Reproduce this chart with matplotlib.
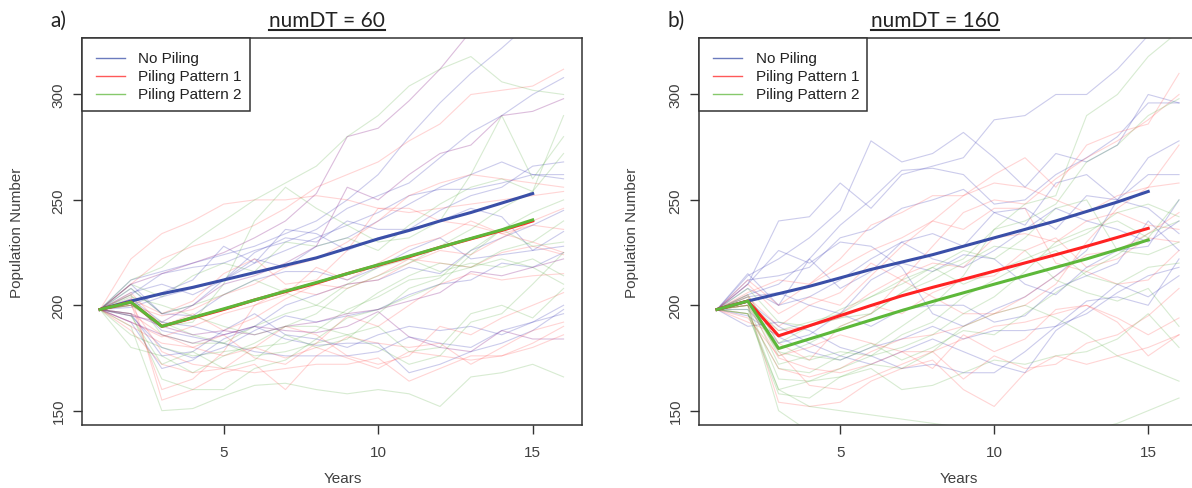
import matplotlib
matplotlib.use("Agg")
import matplotlib.pyplot as plt
from matplotlib.lines import Line2D
from matplotlib.patches import Rectangle

plt.rcParams['font.family'] = ['Liberation Sans', 'DejaVu Sans']

#--------------- data ----------#
years = list(range(1, 17))
mean_years = list(range(1, 16))

# panel a) numDT = 60
a_blue = [
    [198, 212, 216, 220, 224, 228, 234, 240, 250, 262, 280, 296, 310, 322, 335, 345],
    [198, 205, 215, 218, 220, 226, 230, 236, 246, 252, 258, 270, 282, 290, 300, 308],
    [198, 208, 196, 200, 212, 222, 218, 228, 232, 240, 248, 256, 262, 268, 262, 260],
    [198, 195, 180, 175, 180, 188, 195, 192, 195, 198, 205, 210, 212, 220, 218, 225],
    [198, 202, 188, 185, 182, 178, 176, 176, 176, 178, 185, 182, 180, 188, 192, 196],
    [198, 206, 210, 205, 212, 220, 226, 232, 238, 244, 252, 255, 255, 258, 262, 262],
    [198, 192, 170, 174, 184, 190, 200, 205, 210, 212, 218, 215, 226, 232, 238, 245],
    [198, 200, 206, 212, 228, 220, 236, 234, 226, 232, 236, 240, 246, 242, 226, 235],
    [198, 210, 196, 195, 205, 212, 216, 216, 212, 218, 226, 232, 222, 224, 226, 228],
    [198, 203, 192, 190, 186, 190, 184, 181, 182, 182, 168, 172, 178, 182, 188, 198],
    [198, 199, 204, 208, 212, 225, 232, 230, 240, 236, 236, 245, 252, 256, 266, 268],
    [198, 196, 176, 178, 188, 196, 186, 184, 180, 186, 190, 188, 190, 186, 192, 200],
]
a_red = [
    [198, 222, 234, 240, 248, 250, 250, 252, 250, 246, 244, 246, 248, 250, 252, 254],
    [198, 210, 222, 228, 232, 238, 246, 256, 262, 268, 278, 286, 300, 302, 304, 312],
    [198, 200, 178, 172, 170, 168, 170, 172, 172, 175, 164, 170, 176, 176, 182, 190],
    [198, 205, 155, 160, 168, 172, 160, 176, 185, 182, 180, 182, 172, 180, 188, 192],
    [198, 192, 185, 190, 196, 200, 208, 205, 210, 212, 220, 226, 224, 232, 240, 246],
    [198, 200, 195, 198, 205, 210, 218, 222, 230, 240, 252, 258, 262, 260, 258, 256],
    [198, 190, 182, 180, 176, 180, 175, 180, 175, 170, 178, 176, 174, 176, 180, 186],
    [198, 203, 196, 202, 215, 222, 210, 212, 226, 246, 246, 240, 238, 234, 230, 225],
    [198, 188, 172, 168, 170, 180, 190, 186, 176, 172, 176, 190, 186, 194, 200, 206],
    [198, 206, 190, 196, 188, 194, 203, 210, 208, 214, 222, 220, 218, 225, 228, 224],
    [198, 196, 186, 180, 186, 175, 172, 182, 195, 190, 200, 210, 215, 212, 214, 215],
    [198, 201, 160, 165, 178, 200, 205, 218, 212, 220, 228, 232, 240, 234, 238, 236],
]
a_green = [
    [198, 212, 218, 230, 240, 250, 258, 266, 280, 290, 304, 312, 318, 306, 302, 300],
    [198, 190, 150, 151, 157, 162, 163, 160, 158, 160, 158, 152, 166, 168, 172, 166],
    [198, 200, 190, 192, 210, 240, 256, 246, 238, 230, 232, 240, 262, 290, 260, 280],
    [198, 180, 176, 168, 176, 182, 190, 190, 186, 180, 172, 176, 192, 196, 210, 225],
    [198, 205, 186, 182, 182, 190, 196, 200, 196, 206, 214, 220, 218, 226, 230, 240],
    [198, 208, 196, 200, 205, 212, 206, 200, 210, 218, 222, 216, 220, 218, 222, 214],
    [198, 195, 172, 178, 170, 174, 186, 180, 184, 196, 208, 213, 226, 236, 228, 230],
    [198, 210, 204, 214, 220, 216, 230, 228, 232, 226, 238, 248, 256, 260, 254, 290],
    [198, 186, 180, 176, 178, 180, 182, 188, 198, 204, 212, 214, 218, 222, 218, 210],
    [198, 196, 165, 160, 160, 170, 174, 184, 194, 198, 204, 210, 224, 236, 244, 250],
    [198, 204, 200, 195, 190, 186, 190, 196, 208, 214, 220, 228, 236, 246, 254, 272],
    [198, 200, 192, 186, 182, 176, 178, 182, 186, 190, 178, 180, 196, 200, 194, 208],
]
a_purple = [
    [198, 210, 215, 220, 225, 232, 240, 253, 280, 284, 297, 312, 330, 345, 355, 360],
    [198, 195, 192, 200, 210, 214, 220, 228, 256, 250, 262, 272, 276, 290, 292, 298],
    [198, 196, 190, 186, 188, 186, 190, 192, 196, 198, 202, 206, 216, 214, 218, 222],
    [198, 192, 186, 182, 186, 190, 188, 187, 190, 197, 185, 180, 178, 188, 184, 184],
]
a_mean_blue = [198, 202, 205.5, 208.5, 212, 215.5, 219, 222.5, 227, 231.5, 235.5, 240, 244, 248.5, 253]
a_mean_red = [198, 201.5, 190, 194, 198, 202.5, 206.5, 210.5, 215, 219, 223, 227.5, 231.5, 235.5, 240]
a_mean_green = [198, 201.5, 190, 194.2, 198.3, 202.5, 206.7, 210.8, 215, 219.2, 223.3, 227.5, 231.7, 235.8, 240.5]

# panel b) numDT = 160
b_blue = [
    [198, 210, 240, 242, 258, 246, 262, 266, 270, 288, 290, 300, 300, 312, 328, 340],
    [198, 214, 222, 232, 245, 278, 268, 272, 282, 270, 256, 272, 268, 276, 300, 296],
    [198, 205, 210, 222, 238, 250, 264, 265, 262, 248, 250, 262, 270, 280, 296, 296],
    [198, 212, 214, 218, 232, 236, 246, 250, 255, 244, 238, 258, 262, 250, 270, 278],
    [198, 208, 200, 222, 208, 216, 230, 234, 228, 244, 246, 236, 252, 250, 246, 234],
    [198, 202, 190, 182, 176, 172, 178, 184, 178, 172, 168, 188, 198, 210, 204, 214],
    [198, 195, 185, 178, 174, 180, 184, 190, 184, 188, 188, 190, 196, 206, 214, 218],
    [198, 215, 200, 204, 212, 222, 230, 222, 218, 226, 236, 246, 240, 236, 230, 240],
    [198, 190, 192, 188, 180, 176, 170, 172, 168, 168, 178, 190, 202, 204, 200, 222],
    [198, 204, 206, 200, 196, 212, 220, 216, 224, 222, 210, 205, 218, 226, 228, 250],
    [198, 198, 182, 186, 196, 190, 198, 200, 200, 192, 195, 208, 214, 220, 240, 226],
    [198, 210, 226, 220, 230, 228, 218, 196, 190, 198, 204, 214, 226, 250, 262, 262],
]
b_red = [
    [198, 212, 200, 210, 222, 238, 244, 252, 252, 262, 270, 256, 276, 282, 286, 310],
    [198, 205, 182, 174, 190, 196, 212, 228, 244, 250, 248, 260, 270, 278, 288, 300],
    [198, 200, 175, 170, 168, 172, 178, 178, 165, 176, 170, 172, 182, 186, 195, 208],
    [198, 200, 154, 152, 154, 164, 170, 174, 160, 152, 168, 176, 172, 176, 180, 186],
    [198, 206, 212, 210, 218, 226, 232, 240, 252, 258, 256, 250, 244, 252, 256, 258],
    [198, 192, 186, 190, 196, 206, 214, 220, 218, 232, 234, 230, 240, 244, 238, 236],
    [198, 202, 178, 162, 160, 166, 172, 178, 184, 190, 192, 196, 200, 194, 186, 194],
    [198, 204, 190, 200, 206, 220, 212, 204, 196, 196, 200, 210, 230, 246, 256, 276],
    [198, 196, 170, 166, 170, 178, 184, 186, 190, 196, 204, 214, 224, 226, 234, 244],
    [198, 210, 196, 204, 200, 214, 228, 240, 236, 246, 246, 220, 216, 210, 212, 226],
    [198, 194, 176, 180, 186, 182, 178, 170, 186, 178, 184, 198, 200, 192, 176, 186],
    [198, 200, 188, 190, 194, 200, 196, 206, 212, 214, 226, 232, 218, 222, 232, 230],
]
b_green = [
    [198, 200, 150, 140, 135, 130, 125, 120, 118, 116, 115, 114, 114, 120, 130, 138],
    [198, 196, 160, 152, 150, 148, 146, 144, 142, 140, 140, 138, 140, 144, 150, 156],
    [198, 202, 172, 176, 174, 180, 190, 200, 214, 236, 248, 252, 290, 300, 318, 330],
    [198, 204, 176, 182, 190, 196, 206, 216, 222, 236, 240, 248, 268, 276, 290, 298],
    [198, 200, 165, 164, 170, 176, 180, 186, 196, 204, 216, 230, 236, 240, 232, 250],
    [198, 198, 160, 164, 166, 172, 170, 178, 190, 196, 200, 194, 186, 176, 170, 164],
    [198, 205, 182, 190, 198, 204, 212, 218, 226, 222, 232, 246, 250, 226, 224, 230],
    [198, 196, 170, 168, 176, 182, 174, 180, 188, 186, 196, 206, 216, 224, 234, 240],
    [198, 202, 188, 192, 196, 204, 210, 218, 210, 216, 222, 228, 234, 244, 248, 242],
    [198, 196, 158, 156, 166, 170, 160, 162, 168, 174, 172, 176, 178, 184, 196, 180],
    [198, 208, 192, 190, 194, 196, 206, 212, 220, 228, 226, 212, 206, 202, 208, 190],
    [198, 200, 178, 174, 178, 176, 186, 192, 204, 212, 220, 226, 214, 210, 218, 220],
]
b_mean_blue = [198, 202, 205.5, 209, 213, 217, 220.5, 224, 228, 232, 236, 240, 244.5, 249, 254]
b_mean_red = [198, 202, 185.5, 190.3, 195.1, 199.9, 204.5, 208.5, 212.3, 216.2, 220.1, 224, 228, 232.2, 236.5]
b_mean_green = [198, 202, 179.5, 184, 188.5, 193, 197.5, 201.8, 205.9, 210, 214, 218, 222, 226.4, 231]

legend_labels = ["No Piling", "Piling Pattern 1", "Piling Pattern 2"]

#--------------- styles ----------#
W, H = 1192, 489
thin_blue = (0.2, 0.2, 0.7, 0.25)
thin_red = (1.0, 0.25, 0.25, 0.22)
thin_green = (0.3, 0.65, 0.2, 0.22)
thin_purple = (0.55, 0.15, 0.55, 0.3)
thick_blue = "#3A4FA8"
thick_red = "#FF2222"
thick_green = "#5DB83A"
axis_col = "#333333"

fig = plt.figure(figsize=(W / 100, H / 100), dpi=100)


def fx(px):
    return px / W


def fy(py):
    return 1 - py / H


def make_panel(left, right, blue, red, green, purple, m_blue, m_red, m_green,
               title, tag, tag_x, title_x, ylab_x, years_x):
    ax = fig.add_axes([fx(left), fy(426), (right - left) / W, (426 - 39) / H])
    for s in blue:
        ax.plot(years, s, color=thin_blue, lw=0.8)
    for s in red:
        ax.plot(years, s, color=thin_red, lw=0.8)
    for s in green:
        ax.plot(years, s, color=thin_green, lw=0.8)
    for s in purple:
        ax.plot(years, s, color=thin_purple, lw=0.8)
    ax.plot(mean_years, m_blue, color=thick_blue, lw=2.2)
    ax.plot(mean_years, m_red, color=thick_red, lw=2.2)
    ax.plot(mean_years, m_green, color=thick_green, lw=2.2)

    ax.set_xlim(0.4, 16.6)
    ax.set_ylim(143.2, 326.8)
    ax.set_xticks([5, 10, 15])
    ax.set_yticks([150, 200, 250, 300])
    ax.set_yticklabels(["150", "200", "250", "300"], rotation=90, va="center")
    ax.tick_params(direction="out", length=6.5, width=1.0, colors=axis_col,
                   labelsize=11, labelcolor="#404040")
    ax.tick_params(axis="y", pad=5)
    ax.tick_params(axis="x", pad=8)
    for sp in ax.spines.values():
        sp.set_color(axis_col)
        sp.set_linewidth(1.1)

    # legend box in the top left corner
    ax.add_patch(Rectangle((fx(left), fy(112.3)), 168 / W, (112.3 - 39) / H,
                           transform=fig.transFigure, facecolor="white",
                           edgecolor=axis_col, lw=1.1, zorder=5, clip_on=False))
    for lab, col, yy in zip(legend_labels, [thick_blue, thick_red, thick_green], [59.3, 77, 95]):
        ax.add_line(Line2D([fx(left + 14.5), fx(left + 43)], [fy(yy), fy(yy)],
                           transform=fig.transFigure, color=col, lw=1.0, alpha=0.75,
                           zorder=6, clip_on=False))
        fig.text(fx(left + 57), fy(yy), lab, fontsize=11, color="#222222",
                 va="center", ha="left", zorder=7)

    fig.text(fx(ylab_x), fy(232.5), "Population Number", rotation=90, fontsize=11,
             color="#404040", ha="center", va="center")
    fig.text(fx(years_x), fy(479), "Years", fontsize=11, color="#404040",
             ha="center", va="center")
    t = fig.text(fx(title_x), fy(21), title, fontsize=15, family="Lato",
                 color="#222222", ha="center", va="center")
    fig.text(fx(tag_x), fy(21), tag, fontsize=15, family="Lato",
             color="#222222", ha="center", va="center")
    return ax, t


ax_a, title_a = make_panel(81.5, 582.1, a_blue, a_red, a_green, a_purple,
                           a_mean_blue, a_mean_red, a_mean_green,
                           "numDT = 60", "a)", 58.4, 327.4, 17, 343)
ax_b, title_b = make_panel(698.5, 1197.5, b_blue, b_red, b_green, [],
                           b_mean_blue, b_mean_red, b_mean_green,
                           "numDT = 160", "b)", 676, 935, 632, 958.6)

# underline the titles
fig.canvas.draw()
renderer = fig.canvas.get_renderer()
for t in [title_a, title_b]:
    bb = t.get_window_extent(renderer)
    fig.add_artist(Line2D([bb.x0 / W, bb.x1 / W], [fy(30.5), fy(30.5)],
                          transform=fig.transFigure, color="#222222", lw=1.5))

fig.savefig("out.png", dpi=100)
